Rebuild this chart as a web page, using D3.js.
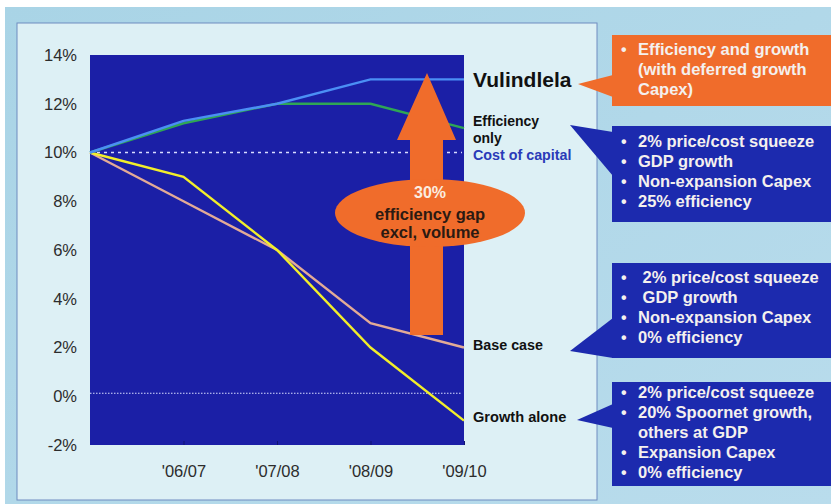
<!DOCTYPE html>
<html>
<head>
<meta charset="utf-8">
<script src="https://cdn.jsdelivr.net/npm/d3@7"></script>
<style>
body{margin:0;background:#fff;}
text{font-family:"Liberation Sans",Arial,sans-serif;}
</style>
</head>
<body>
<svg id="chart" width="831" height="504"></svg>
<script>
// data
var years = ["'05/06", "'06/07", "'07/08", "'08/09", "'09/10"];
var vulindlela = [10, 11.3, 12, 13, 13];
var efficiencyOnly = [10, 11.2, 12, 12, 11];
var baseCase = [10, 8, 6, 3, 2];
var growthAlone = [10, 9, 6, 2, -1];
var costOfCapital = 10;
var zeroLine = 0;
var yTicks = [-2, 0, 2, 4, 6, 8, 10, 12, 14];
var gapArrow = [2.6, 13.1]; // arrow from base-ish to top
var boxTexts = [
  ["Efficiency and growth", "(with deferred growth", "Capex)"],
  ["2% price/cost squeeze", "GDP growth", "Non-expansion Capex", "25% efficiency"],
  [" 2% price/cost squeeze", " GDP growth", "Non-expansion Capex", "0% efficiency"],
  ["2% price/cost squeeze", "20% Spoornet growth,", "others at GDP", "Expansion Capex", "0% efficiency"]
];

var svg = d3.select("#chart");

var defs = svg.append("defs");
var grad = defs.append("linearGradient").attr("id", "bg").attr("x1", 0).attr("y1", 0).attr("x2", 1).attr("y2", 1);
grad.append("stop").attr("offset", "0%").attr("stop-color", "#a9d4e6");
grad.append("stop").attr("offset", "100%").attr("stop-color", "#b9dcec");

svg.append("rect").attr("x", 5).attr("y", 7).attr("width", 826).attr("height", 497).attr("fill", "url(#bg)");
svg.append("rect").attr("x", 17).attr("y", 23).attr("width", 580).attr("height", 477)
  .attr("fill", "#ddf0f5").attr("stroke", "#6f8cc0").attr("stroke-width", 1);

var x = d3.scalePoint().domain(years).range([90, 464]);
var y = d3.scaleLinear().domain([-2, 14]).range([445, 55]);

// plot area
svg.append("rect").attr("x", 90).attr("y", 55).attr("width", 374).attr("height", 390).attr("fill", "#1b1fa6");

// axes
var yAxis = svg.append("g").attr("transform", "translate(90,0)")
  .call(d3.axisLeft(y).tickValues(yTicks).tickSize(0).tickPadding(13).tickFormat(function (d) { return d + "%"; }));
yAxis.select(".domain").remove();
yAxis.selectAll("text").attr("font-size", 16.5).attr("fill", "#2c2c2c");

var xAxis = svg.append("g").attr("transform", "translate(0,445)")
  .call(d3.axisBottom(x).tickValues(years.slice(1)).tickSize(-4).tickPadding(20));
xAxis.select(".domain").remove();
xAxis.selectAll("line").attr("stroke", "#101470");
xAxis.selectAll("text").attr("font-size", 16.5).attr("fill", "#2c2c2c");

// reference lines
svg.append("line").attr("x1", 90).attr("x2", 462).attr("y1", y(costOfCapital)).attr("y2", y(costOfCapital))
  .attr("stroke", "#d8dcff").attr("stroke-width", 1.3).attr("stroke-dasharray", "3,4");
svg.append("line").attr("x1", 90).attr("x2", 462).attr("y1", y(zeroLine) - 3).attr("y2", y(zeroLine) - 3)
  .attr("stroke", "#d8dcff").attr("stroke-width", 1).attr("stroke-dasharray", "1.5,1.5");

var line = d3.line().x(function (d, i) { return x(years[i]); }).y(function (d) { return y(d); });
var series = [
  { v: baseCase, c: "#e3ab96" },
  { v: growthAlone, c: "#f2ee2a" },
  { v: efficiencyOnly, c: "#2fa655" },
  { v: vulindlela, c: "#4b8ff5" }
];
svg.selectAll("path.series").data(series).enter().append("path")
  .attr("class", "series")
  .attr("d", function (d) { return line(d.v); })
  .attr("fill", "none").attr("stroke", function (d) { return d.c; }).attr("stroke-width", 2.4);

// orange arrow
var orange = "#f06c2b";
var ax = 427, yb = 335, yt = y(gapArrow[1]) - 4;
svg.append("path")
  .attr("d", "M" + (ax - 17) + "," + yb + " L" + (ax - 17) + ",140 L" + (ax - 30) + ",140 L" + ax + "," + yt +
    " L" + (ax + 29) + ",140 L" + (ax + 16) + ",140 L" + (ax + 16) + "," + yb + " Z")
  .attr("fill", orange);
svg.append("ellipse").attr("cx", 430).attr("cy", 213).attr("rx", 95).attr("ry", 34).attr("fill", orange);
svg.append("text").attr("x", 430).attr("y", 198).attr("text-anchor", "middle").attr("font-size", 16).attr("font-weight", "bold").attr("fill", "#fbeee0").text("30%");
svg.append("text").attr("x", 430).attr("y", 220).attr("text-anchor", "middle").attr("font-size", 16.5).attr("font-weight", "bold").attr("fill", "#2b1a12").text("efficiency gap");
svg.append("text").attr("x", 430).attr("y", 238).attr("text-anchor", "middle").attr("font-size", 16.5).attr("font-weight", "bold").attr("fill", "#2b1a12").text("excl, volume");

// series labels
function label(tx, ty, s, size, col) {
  svg.append("text").attr("x", tx).attr("y", ty).attr("font-size", size).attr("font-weight", "bold").attr("fill", col).text(s);
}
label(473, 87, "Vulindlela", 21, "#111");
label(473, 126, "Efficiency", 14, "#111");
label(473, 143, "only", 14, "#111");
label(473, 160, "Cost of capital", 14.3, "#2a3ab8");
label(473, 350, "Base case", 14.3, "#111");
label(473, 422, "Growth alone", 14.6, "#111");

// callout boxes
var boxes = [
  { y0: 35, y1: 106, fill: orange, tip: [578, 84], b: [75, 97], base: 55 },
  { y0: 126, y1: 222, fill: "#1c2aae", tip: [570, 125], b: [132, 176], base: 147 },
  { y0: 263, y1: 358, fill: "#1c2aae", tip: [570, 351], b: [318, 358], base: 283 },
  { y0: 382, y1: 486, fill: "#1c2aae", tip: [577, 420], b: [404, 428], base: 398 }
];
boxes.forEach(function (bx, i) {
  svg.append("rect").attr("x", 612).attr("y", bx.y0).attr("width", 219).attr("height", bx.y1 - bx.y0).attr("fill", bx.fill);
  svg.append("path").attr("d", "M" + bx.tip[0] + "," + bx.tip[1] + " L613," + bx.b[0] + " L613," + bx.b[1] + " Z").attr("fill", bx.fill);
  var lines = boxTexts[i];
  lines.forEach(function (t, j) {
    var ly = bx.base + j * 20;
    var cont = (i === 0 && j > 0) || (i === 3 && j === 2);
    if (!cont) {
      svg.append("text").attr("x", 621).attr("y", ly).attr("font-size", 16).attr("font-weight", "bold").attr("fill", "#f4f0ee").text("•");
    }
    svg.append("text").attr("x", 638).attr("y", ly).attr("font-size", 16.5).attr("font-weight", "bold")
      .attr("fill", "#f4f0ee").attr("xml:space", "preserve").style("white-space", "pre").text(t);
  });
});
</script>
</body>
</html>
